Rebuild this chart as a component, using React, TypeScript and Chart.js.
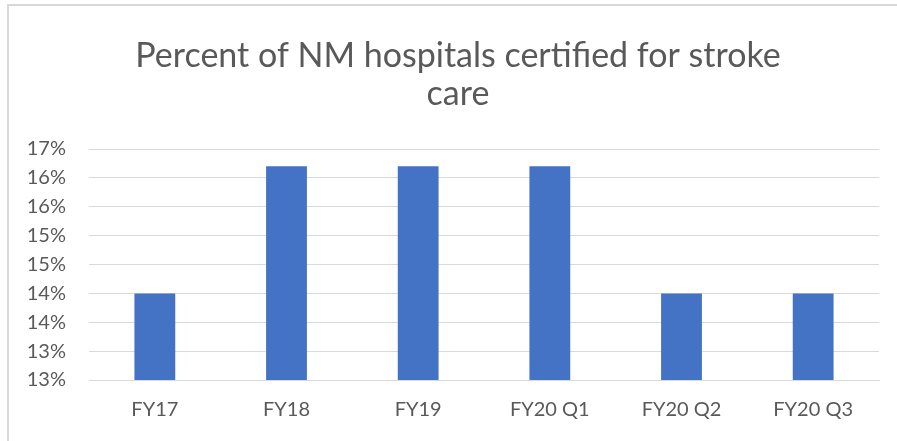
import React, { useEffect, useRef } from "react";
import { Chart, registerables } from "chart.js";

Chart.register(...registerables);

const categories = ["FY17", "FY18", "FY19", "FY20 Q1", "FY20 Q2", "FY20 Q3"];
const percentCertified = [14.0, 16.2, 16.2, 16.2, 14.0, 14.0];
const titleLines = ["Percent of NM hospitals certified for stroke", "care"];
const yMin = 12.5;
const yMax = 16.5;
const yStep = 0.5;

const FONT = "Lato, 'Open Sans', sans-serif";
const TEXT = "#595959";
const GRID = "#d9d9d9";

const shiftTitle = {
  id: "shiftTitle",
  afterLayout(chart: any) {
    const tb = chart.titleBlock;
    if (tb) {
      tb.left += 18.5;
      tb.right += 18.5;
    }
  },
};

export default function App() {
  const ref = useRef<HTMLCanvasElement | null>(null);

  useEffect(() => {
    if (!ref.current) return;
    const chart = new Chart(ref.current, {
      type: "bar",
      data: {
        labels: categories,
        datasets: [
          {
            data: percentCertified,
            backgroundColor: "#4472C4",
            categoryPercentage: 1,
            barPercentage: 0.31,
          },
        ],
      },
      plugins: [shiftTitle],
      options: {
        animation: false,
        responsive: false,
        maintainAspectRatio: false,
        layout: { padding: { left: 0, right: 18, top: 0, bottom: 0 } },
        plugins: {
          legend: { display: false },
          tooltip: { enabled: false },
          title: {
            display: true,
            text: titleLines,
            color: TEXT,
            font: { family: FONT, size: 34, weight: "normal", lineHeight: 38 / 34 },
            padding: { top: 37, bottom: 36 },
          },
        },
        scales: {
          x: {
            grid: { display: false, drawTicks: false },
            border: { display: true, color: GRID, width: 1 },
            ticks: {
              color: TEXT,
              font: { family: FONT, size: 20 },
              padding: 18,
              maxRotation: 0,
            },
            afterFit: (s: any) => {
              s.height = 61;
            },
          },
          y: {
            min: yMin,
            max: yMax,
            grid: { color: GRID, lineWidth: 1, drawTicks: false },
            border: { display: false },
            ticks: {
              stepSize: yStep,
              color: TEXT,
              font: { family: FONT, size: 20 },
              padding: 23,
              callback: (v: any) => Math.round(Number(v)) + "%",
            },
            afterFit: (s: any) => {
              s.width = 89;
            },
          },
        },
      },
    });
    return () => chart.destroy();
  }, []);

  return (
    <div
      style={{
        position: "fixed",
        left: 0,
        top: 0,
        width: 897,
        height: 441,
        overflow: "hidden",
        background: "#fff",
      }}
    >
      <div
        style={{
          position: "absolute",
          left: 7,
          top: 4,
          width: 2000,
          height: 2000,
          borderLeft: "2px solid " + GRID,
          borderTop: "2px solid " + GRID,
        }}
      />
      <canvas
        ref={ref}
        width={897}
        height={441}
        style={{ position: "absolute", left: 0, top: 0, width: 897, height: 441 }}
      />
    </div>
  );
}
